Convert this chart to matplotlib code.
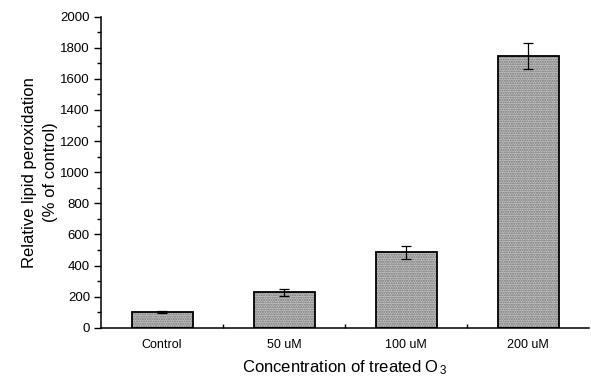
import matplotlib.pyplot as plt
import numpy as np
from matplotlib.ticker import MultipleLocator, FixedLocator

plt.rcParams['font.family'] = ['Liberation Sans', 'DejaVu Sans']
plt.rcParams['mathtext.fontset'] = 'custom'
plt.rcParams['mathtext.rm'] = 'Liberation Sans'
plt.rcParams['mathtext.it'] = 'Liberation Sans'

# data
groups = ['Control', '50 uM', '100 uM', '200 uM']
values = [100, 228, 485, 1745]
errors = [6, 22, 40, 85]

fig = plt.figure(figsize=(5.91, 3.76), dpi=100)
ax = fig.add_axes([0.171, 0.128, 0.826, 0.828])

x = np.arange(len(groups))
# speckled grey fill, then black outline on top
ax.bar(x, values, width=0.5, color='#c6c6c6', hatch='.......', edgecolor='#707070', linewidth=0, zorder=2)
ax.bar(x, values, width=0.5, fill=False, edgecolor='black', linewidth=1.3, zorder=3)
ax.errorbar(x, values, yerr=errors, fmt='none', ecolor='black', elinewidth=0.9, capsize=3.5, capthick=0.9, zorder=4)

ax.set_xlim(-0.5, 3.5)
ax.set_ylim(0, 2000)

ax.spines['top'].set_visible(False)
ax.spines['right'].set_visible(False)
ax.spines['left'].set_linewidth(1.1)
ax.spines['bottom'].set_linewidth(1.1)

ax.yaxis.set_major_locator(MultipleLocator(200))
ax.yaxis.set_minor_locator(MultipleLocator(100))
ax.tick_params(axis='y', which='major', direction='out', length=5, width=1, labelsize=9.5, pad=3)
ax.tick_params(axis='y', which='minor', direction='out', length=3, width=1)

ax.set_xticks(x)
ax.set_xticklabels(groups)
ax.xaxis.set_minor_locator(FixedLocator([0.5, 1.5, 2.5]))
ax.tick_params(axis='x', which='major', length=0, labelsize=9, pad=8)
ax.tick_params(axis='x', which='minor', direction='in', length=3, width=1)

ax.set_ylabel('Relative lipid peroxidation\n(% of control)', fontsize=12, labelpad=2, linespacing=1.5)
ax.set_xlabel('Concentration of treated O$_{\\,3}$', fontsize=12, labelpad=5)

fig.savefig('out.png', dpi=100)
